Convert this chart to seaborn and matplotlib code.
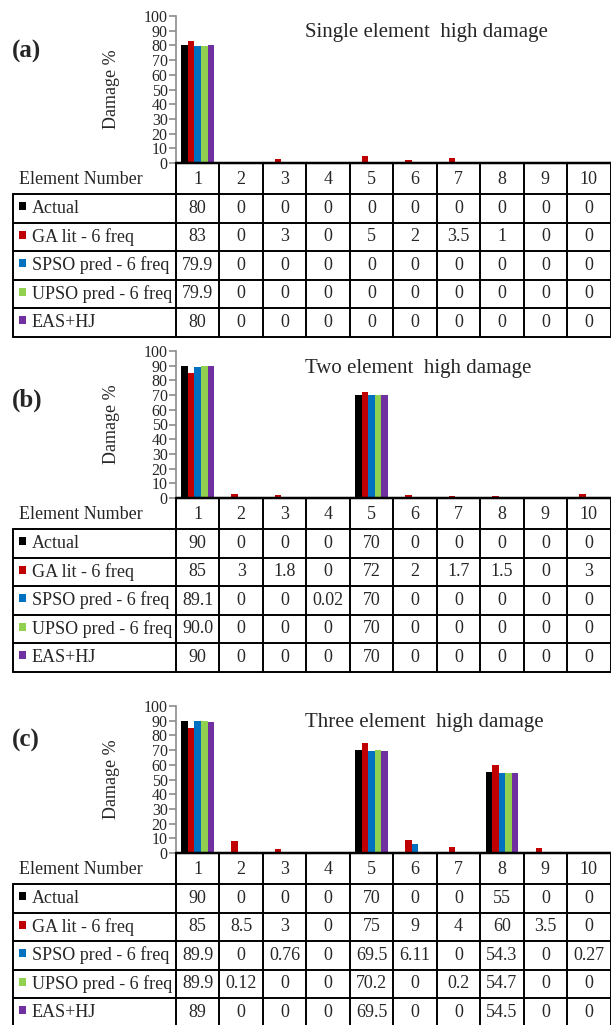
import pandas as pd
import seaborn as sns
import matplotlib.pyplot as plt
from matplotlib.patches import Rectangle

elements = [str(i) for i in range(1, 11)]
series = ['Actual', 'GA lit - 6 freq', 'SPSO pred - 6 freq', 'UPSO pred - 6 freq', 'EAS+HJ']
colors = ['#000000', '#C00000', '#0070C0', '#92D050', '#7030A0']

# table values as printed (strings keep "90.0" etc.)
single_actual = ['80', '0', '0', '0', '0', '0', '0', '0', '0', '0']
single_ga = ['83', '0', '3', '0', '5', '2', '3.5', '1', '0', '0']
single_spso = ['79.9', '0', '0', '0', '0', '0', '0', '0', '0', '0']
single_upso = ['79.9', '0', '0', '0', '0', '0', '0', '0', '0', '0']
single_eas = ['80', '0', '0', '0', '0', '0', '0', '0', '0', '0']

two_actual = ['90', '0', '0', '0', '70', '0', '0', '0', '0', '0']
two_ga = ['85', '3', '1.8', '0', '72', '2', '1.7', '1.5', '0', '3']
two_spso = ['89.1', '0', '0', '0.02', '70', '0', '0', '0', '0', '0']
two_upso = ['90.0', '0', '0', '0', '70', '0', '0', '0', '0', '0']
two_eas = ['90', '0', '0', '0', '70', '0', '0', '0', '0', '0']

three_actual = ['90', '0', '0', '0', '70', '0', '0', '55', '0', '0']
three_ga = ['85', '8.5', '3', '0', '75', '9', '4', '60', '3.5', '0']
three_spso = ['89.9', '0', '0.76', '0', '69.5', '6.11', '0', '54.3', '0', '0.27']
three_upso = ['89.9', '0.12', '0', '0', '70.2', '0', '0.2', '54.7', '0', '0']
three_eas = ['89', '0', '0', '0', '69.5', '0', '0', '54.5', '0', '0']

titles = ['Single element  high damage', 'Two element  high damage', 'Three element  high damage']
tags = ['(a)', '(b)', '(c)']
panel_rows = [
    [single_actual, single_ga, single_spso, single_upso, single_eas],
    [two_actual, two_ga, two_spso, two_upso, two_eas],
    [three_actual, three_ga, three_spso, three_upso, three_eas],
]

W, H = 611, 1025
# (zero line y, top y, tag y) in pixels
geom = [(163, 16, 51), (498, 351, 400), (853, 706, 740)]
left_px, right_px, tab_left_px = 176, 610.5, 13
col_px = (right_px - left_px) / 10
head_h, row_h = 31, 28.5
tab_h = head_h + 5 * row_h

sns.set_style('white')
plt.rcParams['font.family'] = ['Liberation Serif', 'DejaVu Serif']

fig = plt.figure(figsize=(W / 100, H / 100), dpi=100)

for p in range(3):
    zero, top, tag_y = geom[p]
    rows = panel_rows[p]

    df = pd.DataFrame({
        'Element': elements * 5,
        'Series': [s for s in series for _ in elements],
        'Damage': [float(v) for r in rows for v in r],
    })

    ax = fig.add_axes([left_px / W, 1 - zero / H, (right_px - left_px) / W, (zero - top) / H])
    sns.barplot(data=df, x='Element', y='Damage', hue='Series', order=elements,
                hue_order=series, palette=colors, width=0.75, linewidth=0,
                saturation=1, legend=False, ax=ax)
    ax.set_xlim(-0.5, 9.5)
    ax.set_ylim(0, 100)
    ax.set_yticks(range(0, 101, 10))
    ax.set_xticks([])
    ax.set_xlabel('')
    ax.set_ylabel('')
    for s in ['top', 'right', 'bottom']:
        ax.spines[s].set_visible(False)
    ax.spines['left'].set_color('#8c8c8c')
    ax.spines['left'].set_linewidth(1.2)
    ax.tick_params(axis='y', direction='out', length=5, width=1.2, color='#8c8c8c',
                   labelsize=11.5, pad=1, left=True)

    fig.text(111 / W, 1 - (zero + top) / 2 / H, 'Damage %', rotation=90,
             ha='center', va='center', fontsize=13)
    fig.text(305 / W, 1 - (top + 17) / H, titles[p], ha='left', va='center', fontsize=15)
    fig.text(12 / W, 1 - tag_y / H, tags[p], ha='left', va='center', fontsize=18,
             fontweight='bold')

    # data table under the chart
    tx = fig.add_axes([tab_left_px / W, 1 - (zero + tab_h) / H,
                       (right_px - tab_left_px) / W, tab_h / H])
    x0 = -0.5 - (left_px - tab_left_px) / col_px
    tx.set_xlim(x0, 9.5)
    tx.set_ylim(tab_h, 0)
    tx.axis('off')
    lw = 1.4
    tx.plot([-0.5, 9.5], [0, 0], color='black', lw=lw + 0.4, clip_on=False)
    bounds = [head_h + k * row_h for k in range(6)]
    for b in bounds:
        tx.plot([x0, 9.5], [b, b], color='black', lw=lw, clip_on=False)
    for k in range(11):
        tx.plot([-0.5 + k, -0.5 + k], [0, tab_h], color='black', lw=lw, clip_on=False)
    tx.plot([x0, x0], [head_h, tab_h], color='black', lw=lw, clip_on=False)

    px = 1 / col_px
    tx.text(x0 + 6 * px, head_h / 2 + 1, 'Element Number', ha='left', va='center', fontsize=13)
    for i, e in enumerate(elements):
        tx.text(i, head_h / 2 + 1, e, ha='center', va='center', fontsize=13)
    for r, (name, vals) in enumerate(zip(series, rows)):
        yc = head_h + (r + 0.5) * row_h
        tx.add_patch(Rectangle((x0 + 6 * px, yc - 6), 7 * px, 8,
                               color=colors[r], lw=0, clip_on=False))
        tx.text(x0 + 19 * px, yc, name, ha='left', va='center', fontsize=13)
        for i, v in enumerate(vals):
            tx.text(i, yc, v, ha='center', va='center', fontsize=13)

fig.savefig('out.png', dpi=100)
